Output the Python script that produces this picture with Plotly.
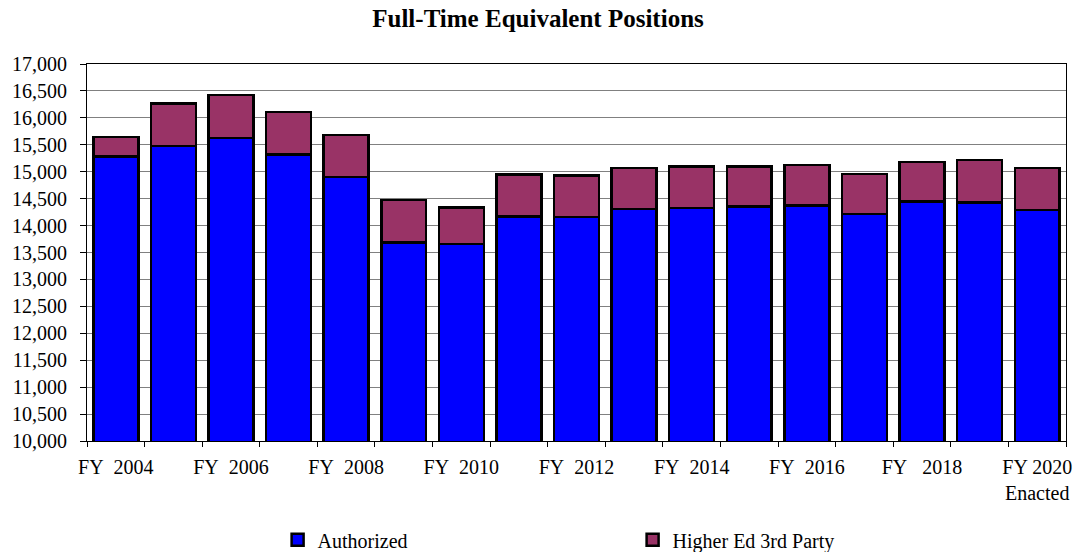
import plotly.graph_objects as go

years = ["2004", "2005", "2006", "2007", "2008", "2009", "2010", "2011", "2012",
         "2013", "2014", "2015", "2016", "2017", "2018", "2019", "2020"]
authorized = [15283, 15481, 15630, 15320, 14905, 13684, 13654, 14167, 14155,
              14305, 14323, 14353, 14372, 14217, 14446, 14428, 14286]
higher_ed = [360, 787, 794, 788, 775, 788, 681, 781, 774,
             768, 774, 744, 751, 738, 738, 793, 787]
tick_text = ["FY\u00a0\u00a02004", "", "FY\u00a0\u00a02006", "", "FY\u00a0\u00a02008", "",
             "FY\u00a0\u00a02010", "", "FY\u00a0\u00a02012", "", "FY\u00a0\u00a02014", "",
             "FY\u00a0\u00a02016", "", "FY\u00a0\u00a0\u00a02018", "", "FY 2020<br>Enacted"]

FONT = "Liberation Serif"

fig = go.Figure()
fig.add_trace(go.Bar(x=years, y=authorized, name="Authorized",
                     marker=dict(color="#0000FF", line=dict(color="black", width=2.5))))
fig.add_trace(go.Bar(x=years, y=higher_ed, name="Higher Ed 3rd Party",
                     marker=dict(color="#993366", line=dict(color="black", width=2.5))))

fig.update_layout(
    barmode="stack",
    bargap=0.22,
    width=1076, height=552,
    margin=dict(l=87, r=10, t=64, b=111),
    paper_bgcolor="white", plot_bgcolor="white",
    font=dict(family=FONT, size=19, color="black"),
    title=dict(text="<b>Full-Time Equivalent Positions</b>", x=0.5, xanchor="center",
               y=0.967, yanchor="middle", font=dict(family=FONT, size=25, color="black")),
    legend=dict(orientation="h", xref="container", yref="container",
                x=0.258, xanchor="left", y=0.022, yanchor="middle",
                entrywidth=310, entrywidthmode="pixels", itemwidth=30,
                font=dict(family=FONT, size=20, color="black"), traceorder="normal"),
    showlegend=True,
)
fig.update_xaxes(
    type="category", tickmode="array", tickvals=years, ticktext=tick_text,
    tickson="boundaries", ticks="outside", ticklen=5, tickcolor="black",
    tickangle=0, automargin=False, ticklabelstandoff=8,
    showline=True, linecolor="black", linewidth=1, mirror=True,
    showgrid=False, tickfont=dict(family=FONT, size=20, color="black"),
)
fig.update_yaxes(
    range=[10000, 17000], dtick=500, tickformat=",",
    ticks="outside", ticklen=6, tickcolor="black", automargin=False,
    ticklabelstandoff=9,
    showline=True, linecolor="black", linewidth=1, mirror=True,
    showgrid=True, gridcolor="#808080", gridwidth=1, zeroline=False,
    tickfont=dict(family=FONT, size=20, color="black"),
)

fig.write_html("out.html", config={"displayModeBar": False},
               post_script="document.body.style.margin='0px';")
